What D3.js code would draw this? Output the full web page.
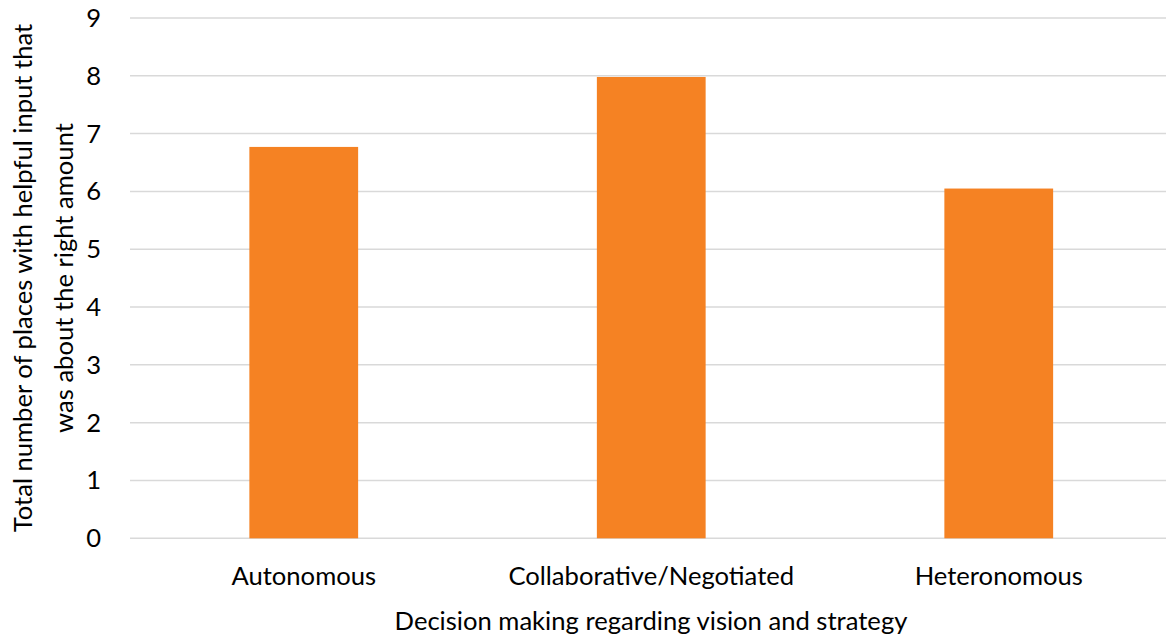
<!DOCTYPE html>
<html><head><meta charset="utf-8">
<script src="https://cdn.jsdelivr.net/npm/d3@7"></script>
<style>body{margin:0;background:#fff;} svg{display:block;} text{font-family:Lato, "Noto Sans", sans-serif;fill:#000;}</style>
</head><body>
<svg id="c" width="1166" height="636"></svg>
<script>
const categories = ["Autonomous", "Collaborative/Negotiated", "Heteronomous"];
const values = [6.77, 7.98, 6.05];
const yTicks = [0,1,2,3,4,5,6,7,8,9];
const xTitle = "Decision making regarding vision and strategy";
const yTitleLines = ["Total number of places with helpful input that", "was about the right amount"];

const fs = "25.6px";
const svg = d3.select("#c");
const x = d3.scaleBand().domain(categories).range([130, 1172.5]).paddingInner(0.687).paddingOuter(0.3435);
const y = d3.scaleLinear().domain([0, 9]).range([538.3, 18]);

// gridlines
svg.append("g").selectAll("line").data(yTicks).join("line")
  .attr("x1", 130).attr("x2", 1172.5)
  .attr("y1", d => y(d)).attr("y2", d => y(d))
  .attr("stroke", "#d9d9d9").attr("stroke-width", 1.5);

// bars
svg.append("g").selectAll("rect").data(values).join("rect")
  .attr("x", (d,i) => x(categories[i]))
  .attr("width", x.bandwidth())
  .attr("y", d => y(d))
  .attr("height", d => y(0) - y(d))
  .attr("fill", "#f58223");

// y tick labels
svg.append("g").selectAll("text").data(yTicks).join("text")
  .attr("x", 101).attr("y", d => y(d)).attr("dy", "0.35em")
  .attr("text-anchor", "end").style("font-size", fs)
  .text(d => d);

// x labels
svg.append("g").selectAll("text").data(categories).join("text")
  .attr("x", d => x(d) + x.bandwidth()/2).attr("y", 576).attr("dy", "0.35em")
  .attr("text-anchor", "middle").style("font-size", fs)
  .text(d => d);

svg.append("text").attr("x", 651).attr("y", 621).attr("dy", "0.35em")
  .attr("text-anchor", "middle").style("font-size", fs).text(xTitle);

const yt = svg.append("text").attr("transform", "translate(0,278) rotate(-90)")
  .attr("text-anchor", "middle").style("font-size", fs);
yTitleLines.forEach((l, i) => {
  yt.append("tspan").attr("x", 0).attr("y", i === 0 ? 23 : 64).attr("dy", "0.35em").text(l);
});
</script>
</body></html>
